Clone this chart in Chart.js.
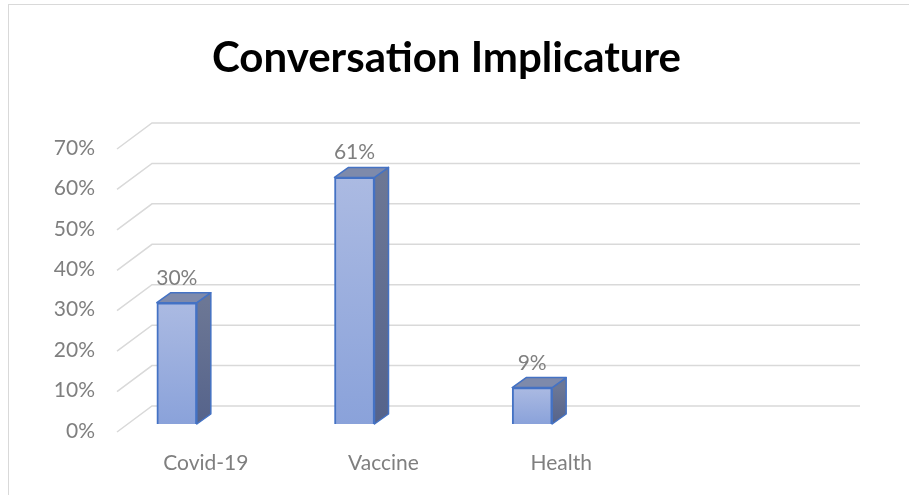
<!DOCTYPE html>
<html>
<head>
<meta charset="utf-8">
<script src="https://cdn.jsdelivr.net/npm/chart.js@4"></script>
<style>
  body { margin: 0; background: #fff; }
  #wrap { position: relative; width: 909px; height: 495px; overflow: hidden; }
  #frame { position: absolute; left: 8px; top: 4px; width: 1000px; height: 600px;
           border-top: 1.5px solid #d9d9d9; border-left: 1.5px solid #d9d9d9; }
  canvas { position: absolute; left: 0; top: 0; }
</style>
</head>
<body>
<div id="wrap">
  <div id="frame"></div>
  <canvas id="chart" width="909" height="495"></canvas>
</div>
<script>
// data
var categories = ['Covid-19', 'Vaccine', 'Health']
var values = [30, 61, 9]
var yTicks = [0, 10, 20, 30, 40, 50, 60, 70]
var chartTitle = 'Conversation Implicature'

// 3d look
const depthX = 14, depthY = -10        // bar depth
const floorX = 35, floorY = -26        // grid depth
const frontLeft = 29                   // grid front starts this far right of the axis
const gridRightGap = 49
const gridColor = '#d9d9d9'
const edgeColor = '#4472c4'
const textGrey = '#7f7f7f'
const tickFont = { family: 'Lato', size: 21 }

var ctx = document.getElementById('chart').getContext('2d')

// width of the widest y label, so the mirrored labels end right where they should
ctx.font = tickFont.size + 'px ' + tickFont.family
var widestY = Math.max.apply(null, yTicks.map(function(v) { return ctx.measureText(v + '%').width }))

function frontFill(c) {
    var y = c.chart.scales.y
    if (!y || c.raw === undefined) return '#9aaedd'
    var top = y.getPixelForValue(c.raw)
    var base = y.getPixelForValue(0)
    if (!isFinite(top) || !isFinite(base)) return '#9aaedd'
    var g = c.chart.ctx.createLinearGradient(0, top, 0, base)
    g.addColorStop(0, '#abbae2')
    g.addColorStop(1, '#8aa2da')
    return g
}

var grid3d = {
    id: 'grid3d',
    beforeDatasetsDraw(chart) {
        var c = chart.ctx, y = chart.scales.y, area = chart.chartArea
        var fx = area.left + frontLeft
        var right = chart.width - gridRightGap
        c.save()
        c.strokeStyle = gridColor
        c.lineWidth = 1.5
        yTicks.forEach(function(v) {
            var p = y.getPixelForValue(v)
            c.beginPath()
            c.moveTo(fx, p + 8)
            c.lineTo(fx + floorX, p + 8 + floorY)
            c.lineTo(right, p + 8 + floorY)
            c.stroke()
        })
        c.restore()
    }
}

var bars3d = {
    id: 'bars3d',
    afterDatasetsDraw(chart) {
        var c = chart.ctx
        var meta = chart.getDatasetMeta(0)
        c.save()
        meta.data.forEach(function(bar, i) {
            var p = bar.getProps(['x', 'y', 'base', 'width'], true)
            var l = p.x - p.width / 2, r = p.x + p.width / 2
            var top = p.y, base = p.base

            // side face
            var sg = c.createLinearGradient(0, top, 0, base)
            sg.addColorStop(0, '#6c7795')
            sg.addColorStop(1, '#55638b')
            c.beginPath()
            c.moveTo(r, top)
            c.lineTo(r + depthX, top + depthY)
            c.lineTo(r + depthX, base + depthY)
            c.lineTo(r, base)
            c.closePath()
            c.fillStyle = sg
            c.fill()
            c.strokeStyle = edgeColor
            c.lineWidth = 1.5
            c.lineJoin = 'round'
            c.stroke()

            // top face
            c.beginPath()
            c.moveTo(l, top)
            c.lineTo(l + depthX, top + depthY)
            c.lineTo(r + depthX, top + depthY)
            c.lineTo(r, top)
            c.closePath()
            c.fillStyle = '#7e8aab'
            c.fill()
            c.stroke()

            // value label
            c.fillStyle = textGrey
            c.font = tickFont.size + 'px ' + tickFont.family
            c.textAlign = 'center'
            c.textBaseline = 'alphabetic'
            c.fillText(values[i] + '%', p.x, top - 18)
        })
        c.restore()
    }
}

var chart = new Chart(ctx, {
    type: 'bar',
    data: {
        labels: categories,
        datasets: [{
            data: values,
            backgroundColor: frontFill,
            borderColor: edgeColor,
            borderWidth: 2,
            barThickness: 40
        }]
    },
    options: {
        responsive: false,
        animation: false,
        layout: { padding: { left: 0, right: 16, top: 0, bottom: 19 } },
        plugins: {
            legend: { display: false },
            tooltip: { enabled: false },
            title: {
                display: true,
                text: chartTitle,
                color: '#000',
                font: { family: 'Lato', size: 42, weight: 'bold', lineHeight: 1.2 },
                padding: { top: 33, bottom: 57.6 }
            }
        },
        scales: {
            x: {
                grid: { display: false, drawTicks: false },
                border: { display: false },
                afterFit: function(s) { s.height = 52 },
                ticks: {
                    color: textGrey,
                    font: tickFont,
                    padding: 27,
                    labelOffset: 29,
                    maxRotation: 0
                }
            },
            y: {
                min: 0,
                max: 70,
                grid: { display: false, drawTicks: false },
                border: { display: false },
                afterFit: function(s) { s.width = 88 },
                ticks: {
                    stepSize: 10,
                    color: textGrey,
                    font: tickFont,
                    mirror: true,
                    crossAlign: 'far',
                    padding: 7 - widestY,
                    labelOffset: 7,
                    callback: function(v) { return v + '%' }
                }
            },
            // empty space on the right where the floor keeps going
            side: {
                position: 'right',
                display: true,
                grid: { display: false, drawTicks: false },
                border: { display: false },
                ticks: { display: false },
                afterFit: function(s) { s.width = 272 }
            }
        }
    },
    plugins: [grid3d, bars3d]
})
</script>
</body>
</html>
